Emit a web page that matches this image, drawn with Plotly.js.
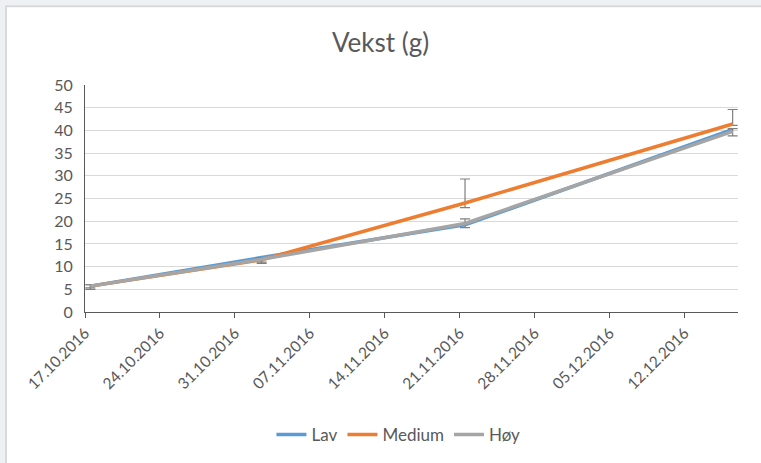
<!DOCTYPE html>
<html>
<head>
<meta charset="utf-8">
<script src="https://cdn.plot.ly/plotly-3.0.1.min.js"></script>
<style>html,body{margin:0;padding:0;background:#fff}#chart{width:761px;height:463px}</style>
</head>
<body>
<div id="chart"></div>
<script>
const dates = ["2016-10-17", "2016-11-02", "2016-11-21", "2016-12-16"];
const lav = [5.7, 12.0, 19.2, 40.2];
const medium = [5.7, 11.5, 24.0, 41.4];
const hoy = [5.7, 11.6, 19.5, 39.8];
const mediumErrPlus = [0.3, 0.4, 5.3, 3.2];
const mediumErrMinus = [0.4, 0.5, 1.0, 0.3];
const hoyErrPlus = [0.3, 0.3, 1.0, 0.6];
const hoyErrMinus = [0.7, 0.9, 0.9, 1.0];
const axisStart = "2016-10-17";
const axisEnd = "2016-12-17";

const DAY = 86400000;
const common = {
  type: 'scatter', mode: 'lines', x: dates,
  xperiod: DAY, xperiodalignment: 'middle'
};
const errStyle = {type: 'data', symmetric: false, color: '#7f7f7f', thickness: 1.2, width: 5, visible: true};

const traces = [
  Object.assign({}, common, {name: 'Lav', y: lav, line: {color: '#5B9BD5', width: 3.5}}),
  Object.assign({}, common, {name: 'Medium', y: medium, line: {color: '#ED7D31', width: 3.5},
    error_y: Object.assign({}, errStyle, {array: mediumErrPlus, arrayminus: mediumErrMinus})}),
  Object.assign({}, common, {name: 'Høy', y: hoy, line: {color: '#A5A5A5', width: 3.5},
    error_y: Object.assign({}, errStyle, {array: hoyErrPlus, arrayminus: hoyErrMinus})})
];

const font = "Lato, 'Open Sans', sans-serif";
const layout = {
  width: 761, height: 463,
  margin: {l: 85, r: 23, t: 85, b: 150},
  paper_bgcolor: '#eef1f4',
  plot_bgcolor: '#ffffff',
  font: {family: font, color: '#595959', size: 12},
  title: {text: 'Vekst (g)', font: {family: font, size: 26, color: '#595959'}, x: 0.5, xanchor: 'center', y: 0.907, yanchor: 'middle'},
  xaxis: {
    type: 'date', range: [axisStart, axisEnd],
    tick0: axisStart, dtick: 7 * DAY, tickformat: '%d.%m.%Y',
    tickangle: -45, ticks: 'outside', ticklen: 5, tickcolor: '#595959', tickwidth: 1,
    showline: true, linecolor: '#595959', linewidth: 1,
    showgrid: false, zeroline: false,
    tickfont: {size: 15.5, color: '#595959', family: font}
  },
  yaxis: {
    range: [0, 50], dtick: 5, tick0: 0,
    showline: true, linecolor: '#595959', linewidth: 1,
    gridcolor: '#d9d9d9', gridwidth: 1, zeroline: false,
    ticks: '', ticklabelstandoff: 8,
    tickfont: {size: 16, color: '#595959', family: font}
  },
  showlegend: true,
  legend: {orientation: 'h', x: 0.48, xanchor: 'center', y: -0.535, yanchor: 'middle',
    font: {size: 17, color: '#595959', family: font}, itemwidth: 30, traceorder: 'normal', bgcolor: 'rgba(0,0,0,0)'},
  shapes: [{
    type: 'rect', xref: 'paper', yref: 'paper', layer: 'below',
    x0: (6 - 85) / 653, x1: (820 - 85) / 653,
    y0: (313 - 520) / 228, y1: (313 - 6) / 228,
    fillcolor: '#ffffff', line: {color: '#d9d9d9', width: 2}
  }]
};

Plotly.newPlot('chart', traces, layout, {displayModeBar: false, staticPlot: true});
</script>
</body>
</html>
